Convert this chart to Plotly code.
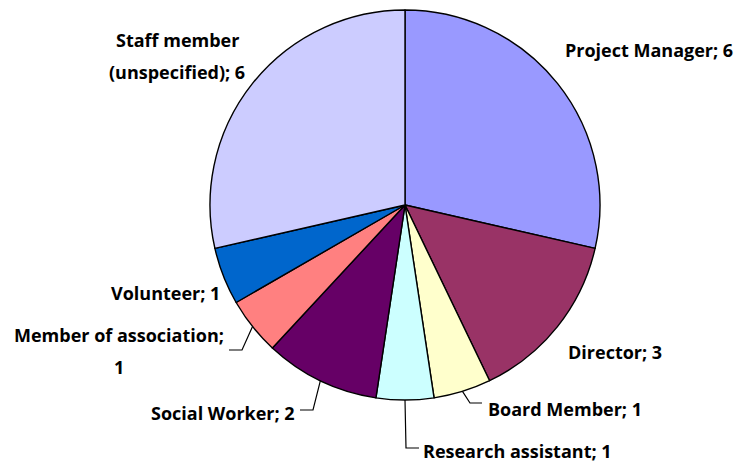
import math
import plotly.graph_objects as go

categories = ["Project Manager", "Director", "Board Member", "Research assistant",
              "Social Worker", "Member of association", "Volunteer", "Staff member (unspecified)"]
values = [6, 3, 1, 1, 2, 1, 1, 6]
colors = ["#9999FF", "#993366", "#FFFFCC", "#CCFFFF", "#660066", "#FF8080", "#0066CC", "#CCCCFF"]

W, H = 739, 464
CX, CY, R = 405, 205, 195

def px(x, y):
    return x / W, 1 - y / H

fig = go.Figure(go.Pie(
    labels=categories, values=values, sort=False, direction="clockwise", rotation=0,
    marker=dict(colors=colors, line=dict(color="black", width=1.4)),
    textinfo="none", hoverinfo="label+value", showlegend=False,
    domain=dict(x=[(CX - R) / W, (CX + R) / W], y=[1 - (CY + R) / H, 1 - (CY - R) / H]),
))

FONT = dict(family="Open Sans, Calibri, sans-serif", size=18, color="black")

# label lines: (text, x, y, xanchor) in pixel positions
label_pos = {
    "Project Manager": [("Project Manager; 6", 563, 50, "left")],
    "Director": [("Director; 3", 566, 352, "left")],
    "Board Member": [("Board Member; 1", 486, 409, "left")],
    "Research assistant": [("Research assistant; 1", 421, 451, "left")],
    "Social Worker": [("Social Worker; 2", 297, 413, "right")],
    "Member of association": [("Member of association;", 119, 335, "center"),
                              ("1", 119, 367, "center")],
    "Volunteer": [("Volunteer; 1", 222, 293, "right")],
    "Staff member (unspecified)": [("Staff member", 177, 40, "center"),
                                   ("(unspecified); 6", 177, 72, "center")],
}

annotations = []
for cat in categories:
    for text, x, y, xa in label_pos[cat]:
        ax, ay = px(x, y)
        annotations.append(dict(x=ax, y=ay, xref="paper", yref="paper", text="<b>" + text + "</b>",
                                showarrow=False, xanchor=xa, yanchor="middle", align="center",
                                font=FONT))

# leader lines: start at slice mid-angle on the rim
total = sum(values)
cum = 0
mids = {}
for c, v in zip(categories, values):
    mids[c] = (cum + v / 2) / total * 2 * math.pi
    cum += v

leaders = {
    "Board Member": [(470, 403), (482, 403)],
    "Research assistant": [(406, 448), (419, 448)],
    "Social Worker": [(313, 410), (300, 410)],
    "Member of association": [(242, 350), (229, 350)],
}
shapes = []
for cat, pts in leaders.items():
    a = mids[cat]
    sx, sy = CX + R * math.sin(a), CY - R * math.cos(a)
    path_pts = [(sx, sy)] + pts
    path = "M " + " L ".join(f"{p[0] / W:.5f},{1 - p[1] / H:.5f}" for p in path_pts)
    shapes.append(dict(type="path", xref="paper", yref="paper", path=path,
                       line=dict(color="black", width=1.2)))

fig.update_layout(width=W, height=H, margin=dict(l=0, r=0, t=0, b=0),
                  paper_bgcolor="white", plot_bgcolor="white",
                  annotations=annotations, shapes=shapes)
fig.write_html("out.html", config={"displayModeBar": False},
               post_script="document.body.style.margin='0';")
